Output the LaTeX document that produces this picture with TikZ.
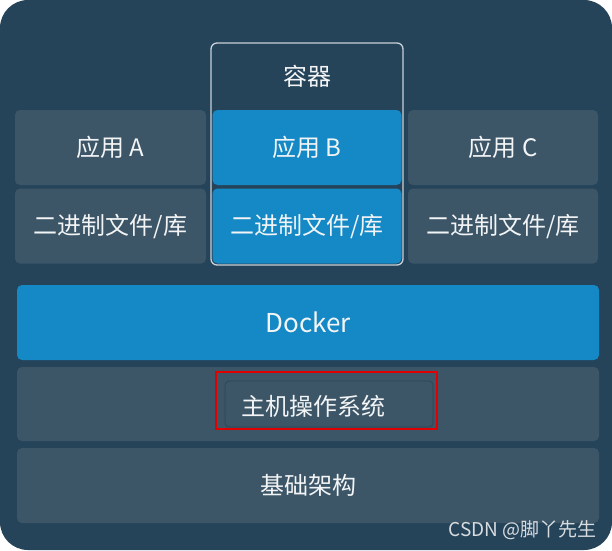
\documentclass[tikz,border=0pt]{standalone}
\usepackage{fontspec}
\setmainfont{Noto Sans CJK SC}
\definecolor{bgdark}{HTML}{25445A}
\definecolor{boxgray}{HTML}{3C5668}
\definecolor{boxblue}{HTML}{1589C6}
\definecolor{cborder}{HTML}{C9D1D7}
\definecolor{txt}{HTML}{F2F4F5}
\definecolor{redmark}{HTML}{E00000}
\definecolor{wm}{HTML}{D8DCDF}
\begin{document}
\begin{tikzpicture}[x=1pt,y=-1pt,
  layer/.style={rounded corners=5pt, inner sep=0pt, text=txt, font=\fontsize{24}{27}\selectfont},
  graybox/.style={layer, fill=boxgray},
  bluebox/.style={layer, fill=boxblue},
  lbl/.style={text=txt, font=\fontsize{24}{27}\selectfont, inner sep=0pt}]
\fill[white] (0,0) rectangle (612,550);
\useasboundingbox (0,0) rectangle (612,550);
\fill[bgdark, rounded corners=28pt] (0,0) rectangle (612,550);
% left and right stacks
\node[graybox, minimum width=191pt, minimum height=75pt] (appA) at (110.5,147.5) {应用 A};
\node[graybox, minimum width=191pt, minimum height=75pt] (binA) at (110.5,226) {二进制文件/库};
\node[graybox, minimum width=190pt, minimum height=75pt] (appC) at (503,147.5) {应用 C};
\node[graybox, minimum width=190pt, minimum height=75pt] (binC) at (503,226) {二进制文件/库};
% container
\node[draw=cborder, line width=1.3pt, fill=bgdark, rounded corners=6pt, minimum width=192pt, minimum height=222pt, inner sep=0pt] (cont) at (307,154) {};
\node[lbl] (contlbl) at (307,76) {容器};
\node[bluebox, minimum width=189pt, minimum height=75pt] (appB) at (307,147.5) {应用 B};
\node[bluebox, minimum width=189pt, minimum height=75pt] (binB) at (307,226) {二进制文件/库};
% lower layers
\node[bluebox, minimum width=582pt, minimum height=75pt, font=\fontsize{26}{29}\selectfont] (docker) at (308,322.5) {Docker};
\node[graybox, minimum width=582pt, minimum height=74pt] (host) at (308,404) {};
\node[rounded corners=4pt, fill=boxgray, draw=black!20!boxgray, line width=0.8pt, minimum width=208pt, minimum height=46pt, inner sep=0pt] (hostinner) at (329,404) {};
\node[lbl] (hosttext) at (313,406) {主机操作系统};
\node[draw=redmark, line width=2.2pt, minimum width=221pt, minimum height=57pt, inner sep=0pt] (redbox) at (326.5,400.5) {};
\node[graybox, minimum width=582pt, minimum height=75pt] (base) at (308,485.5) {基础架构};
% watermark
\node[text=wm, font=\fontsize{19}{21}\selectfont, inner sep=0pt, anchor=east] (wmark) at (597,530) {CSDN @脚丫先生};
\end{tikzpicture}
\end{document}
